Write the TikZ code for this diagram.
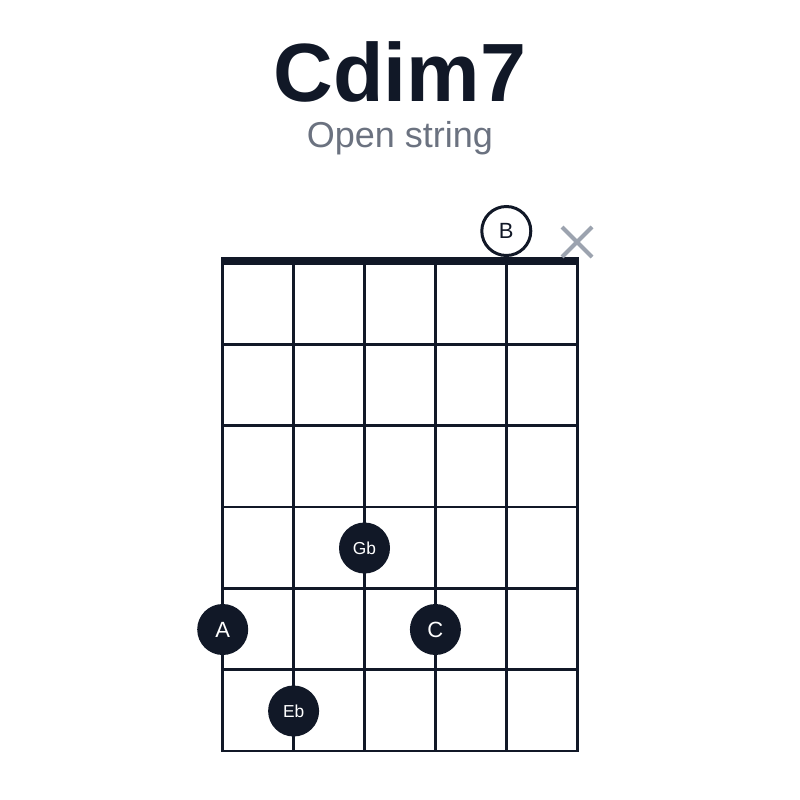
\documentclass[tikz,border=0pt]{standalone}
\usepackage{fontspec}
\setmainfont{Liberation Sans}
\usetikzlibrary{shapes.misc}
\definecolor{ink}{HTML}{111827}
\definecolor{subgray}{HTML}{6B7280}
\definecolor{mutegray}{HTML}{9CA3AF}
\tikzset{
  fret/.style={draw=ink, line width=2pt, line cap=rect},
  finger/.style={circle, fill=ink, text=white, inner sep=0pt, minimum size=38.25pt, font=\fontsize{16.5}{18}\selectfont},
  fingersmall/.style={finger, font=\fontsize{13}{15}\selectfont},
  openstr/.style={circle, draw=ink, line width=2.25pt, fill=white, text=ink, inner sep=0pt, minimum size=36.75pt, font=\fontsize{16.5}{18}\selectfont},
  mutestr/.style={cross out, draw=mutegray, line width=3pt, inner sep=0pt, minimum size=19.5pt}
}
\begin{document}
\begin{tikzpicture}[x=0.75pt, y=-0.75pt]
    \useasboundingbox (0,0) rectangle (800,800);

    \node[anchor=base, text=ink, font=\fontsize{62}{70}\selectfont\bfseries] (title) at (400,101) {Cdim7};
    \node[anchor=base, text=subgray, font=\fontsize{27}{30}\selectfont] (subtitle) at (400,147) {Open string};

    % strings
    \draw[fret] (222.7,263) -- (222.7,751);
    \draw[fret] (293.6,263) -- (293.6,751);
    \draw[fret] (364.5,263) -- (364.5,751);
    \draw[fret] (435.4,263) -- (435.4,751);
    \draw[fret] (506.3,263) -- (506.3,751);
    \draw[fret] (577.2,263) -- (577.2,751);

    % frets
    \draw[fret] (222.7,344.3) -- (577.2,344.3);
    \draw[fret] (222.7,425.6) -- (577.2,425.6);
    \draw[fret] (222.7,507) -- (577.2,507);
    \draw[fret] (222.7,588.3) -- (577.2,588.3);
    \draw[fret] (222.7,669.6) -- (577.2,669.6);
    \draw[fret] (222.7,751) -- (577.2,751);

    % nut
    \fill[ink] (221.3,256.5) rectangle (578.7,265);

    \node[openstr] (b) at (506.3,231) {B};
    \node[mutestr] (x) at (577,242) {};

    \node[fingersmall] (gb) at (364.5,548) {Gb};
    \node[finger] (a) at (222.7,629.5) {A};
    \node[finger] (c) at (435.4,629.5) {C};
    \node[fingersmall] (eb) at (293.6,711) {Eb};

\end{tikzpicture}
\end{document}
